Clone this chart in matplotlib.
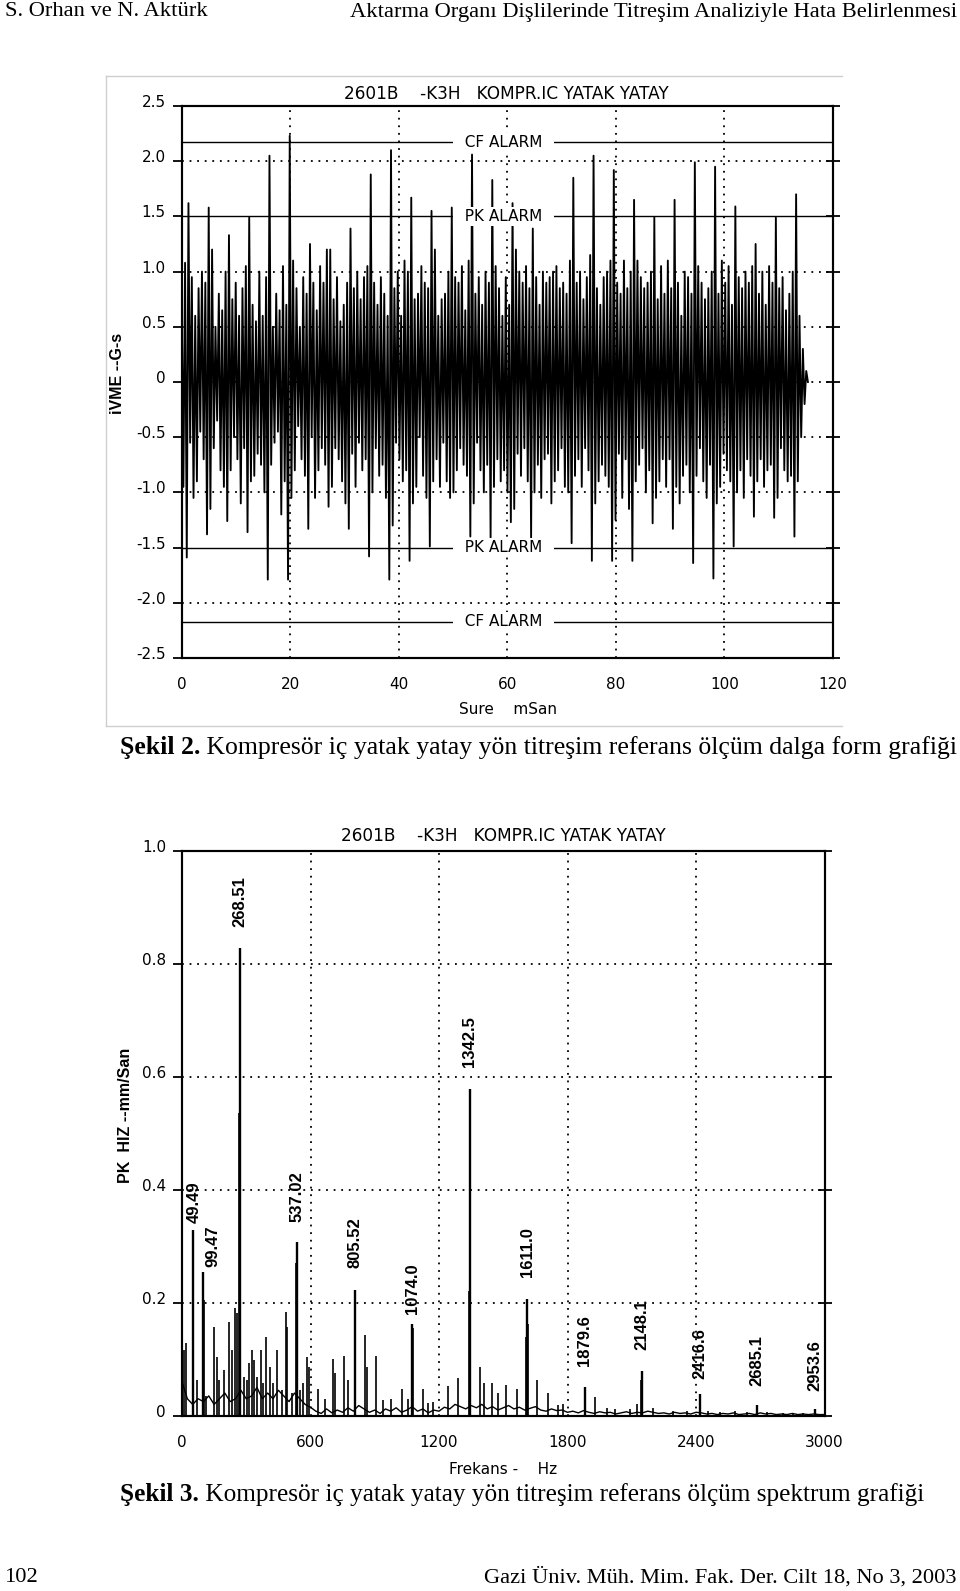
import numpy as np
import matplotlib.pyplot as plt
from matplotlib.lines import Line2D
from matplotlib.text import Annotation
from matplotlib.transforms import ScaledTranslation

plt.rcParams['font.family'] = ['DejaVu Sans']

W, H = 960, 1591

# ---------------- Şekil 2: iVME dalga formu (G-s) ----------------
ORNEK_MS = 0.311  # örnekleme aralığı (ms)
DALGA = [
    [0.75, -0.95, 1.08, -1.59, 1.62, -0.55, 0.95, -1.05, 0.60, -0.90, 0.85, -0.45],
    [1.00, -0.70, 0.90, -1.38, 1.58, -1.15, 1.20, -0.60, 0.50, -0.35, 0.80, -0.80],
    [0.65, -0.95, 1.00, -1.26, 1.33, -0.80, 0.75, -0.50, 0.90, -0.70, 0.60, -1.10],
    [0.85, -0.60, 1.05, -1.36, 1.49, -0.90, 0.70, -0.85, 0.55, -0.65, 1.00, -0.75],
    [0.60, -1.00, 0.95, -1.79, 2.05, -0.75, 0.50, -0.55, 0.80, -0.45, 0.65, -1.20],
    [1.05, -0.90, 0.70, -1.79, 2.23, -1.05, 1.10, -0.80, 0.85, -0.40, 0.50, -0.70],
    [0.95, -0.85, 0.80, -1.33, 1.25, -0.50, 0.90, -1.05, 0.65, -0.80, 1.05, -0.60],
    [0.90, -0.75, 1.20, -1.13, 1.20, -0.95, 0.75, -0.60, 0.95, -0.70, 0.55, -0.90],
    [0.70, -1.10, 0.90, -1.33, 1.39, -0.65, 0.85, -0.95, 1.00, -0.55, 0.75, -0.80],
    [0.95, -0.70, 1.05, -1.58, 1.88, -1.00, 0.90, -0.60, 0.70, -0.85, 0.95, -0.75],
    [0.80, -1.05, 0.60, -1.79, 2.10, -1.30, 0.85, -0.55, 1.00, -0.70, 0.60, -0.90],
    [1.10, -0.80, 1.00, -1.62, 1.67, -1.10, 0.75, -0.95, 0.80, -0.50, 1.05, -0.85],
    [0.90, -1.05, 0.85, -1.49, 1.55, -0.90, 1.20, -0.70, 0.60, -0.95, 0.75, -0.55],
    [0.80, -0.90, 1.00, -1.05, 1.58, -1.00, 0.95, -0.80, 0.90, -0.60, 1.05, -0.75],
    [0.65, -0.85, 1.10, -1.40, 2.06, -1.10, 0.80, -0.55, 0.95, -0.80, 0.70, -1.00],
    [1.00, -0.75, 0.90, -1.41, 1.83, -0.95, 1.05, -0.70, 0.85, -0.90, 0.60, -0.80],
    [0.95, -1.00, 0.70, -1.27, 1.62, -1.15, 1.20, -0.65, 1.00, -0.85, 0.90, -0.60],
    [1.05, -0.90, 0.85, -1.41, 1.39, -1.00, 0.95, -0.75, 0.70, -1.05, 1.00, -0.70],
    [0.90, -0.65, 0.95, -1.10, 1.00, -0.90, 1.05, -0.80, 0.85, -0.60, 0.90, -0.95],
    [0.80, -1.00, 1.10, -1.46, 1.85, -0.85, 0.90, -0.70, 1.00, -0.95, 0.75, -0.60],
    [0.95, -0.80, 1.15, -1.62, 2.05, -1.10, 0.85, -0.90, 0.70, -0.75, 0.95, -0.85],
    [1.00, -0.95, 1.10, -1.62, 1.92, -1.25, 0.90, -0.65, 0.80, -1.05, 1.10, -0.70],
    [0.85, -1.15, 1.00, -1.62, 1.65, -0.90, 1.10, -0.75, 0.95, -0.60, 0.85, -1.00],
    [0.90, -0.80, 1.00, -1.28, 1.49, -1.05, 0.75, -0.90, 1.05, -0.70, 0.80, -0.95],
    [1.10, -0.70, 0.85, -1.33, 1.65, -0.95, 0.90, -1.10, 0.60, -0.85, 1.00, -0.75],
    [0.95, -1.00, 0.80, -1.64, 1.99, -0.85, 1.05, -0.60, 0.90, -0.90, 0.75, -1.05],
    [0.85, -0.75, 1.00, -1.78, 1.95, -1.10, 0.80, -0.95, 1.10, -0.65, 0.90, -0.80],
    [1.05, -0.90, 0.70, -1.49, 1.59, -1.00, 0.95, -0.80, 0.85, -1.05, 1.00, -0.70],
    [0.90, -0.85, 1.05, -1.22, 1.25, -0.90, 0.80, -0.70, 1.00, -0.95, 0.70, -0.80],
    [1.05, -0.75, 0.90, -1.23, 1.49, -1.05, 0.85, -0.60, 0.95, -0.80, 0.65, -0.90],
    [0.80, -0.85, 1.00, -1.40, 1.70, -0.90, 0.60, -0.50, 0.30, -0.20, 0.10, 0.00],
]
CF_ALARM = 2.17
PK_ALARM = 1.5
DALGA_Y = [2.5, 2.0, 1.5, 1.0, 0.5, 0.0, -0.5, -1.0, -1.5, -2.0, -2.5]
DALGA_Y_ETIKET = ['2.5', '2.0', '1.5', '1.0', '0.5', '0', '-0.5', '-1.0', '-1.5', '-2.0', '-2.5']
DALGA_X = [0, 20, 40, 60, 80, 100, 120]
DALGA_IZGARA_Y = [2.0, 1.0, 0.5, 0.0, -0.5, -1.0, -2.0]
DALGA_IZGARA_X = [20, 40, 60, 80, 100]

# ---------------- Şekil 3: spektrum (PK HIZ mm/San) ----------------
TEPE_HZ = [49.49, 99.47, 268.51, 537.02, 805.52, 1074.0, 1342.5,
           1611.0, 1879.6, 2148.1, 2416.6, 2685.1, 2953.6]
TEPE_GENLIK = [0.329, 0.255, 0.827, 0.308, 0.222, 0.162, 0.579,
               0.207, 0.050, 0.080, 0.038, 0.019, 0.011]
TEPE_ETIKET = ['49.49', '99.47', '268.51', '537.02', '805.52', '1074.0', '1342.5',
               '1611.0', '1879.6', '2148.1', '2416.6', '2685.1', '2953.6']

KUCUK_HZ = [9, 19, 52, 68, 102, 112, 151, 165, 174, 196, 218, 235, 247, 255, 264,
            290, 302, 313, 325, 338, 349, 367, 380, 391, 411, 423, 442, 465, 486, 492,
            512, 533, 551, 566, 585, 595, 636, 667, 703, 714, 758, 777, 809, 854, 862,
            906, 940, 975, 1026, 1057, 1077, 1124, 1150, 1173, 1244, 1291, 1338, 1346,
            1392, 1408, 1446, 1477, 1513, 1563, 1605, 1614, 1659, 1711, 1757, 1781,
            1928, 1983, 2021, 2092, 2123, 2144, 2198, 2294, 2356, 2457, 2512, 2582,
            2636, 2730, 2808, 2851, 2901]
KUCUK_GENLIK = [0.116, 0.128, 0.315, 0.063, 0.204, 0.034, 0.157, 0.104, 0.063, 0.081,
                0.166, 0.116, 0.190, 0.181, 0.535, 0.069, 0.063, 0.093, 0.116, 0.098,
                0.069, 0.116, 0.057, 0.139, 0.087, 0.057, 0.116, 0.046, 0.183, 0.157,
                0.040, 0.270, 0.046, 0.057, 0.104, 0.087, 0.047, 0.030, 0.100, 0.075,
                0.106, 0.063, 0.175, 0.143, 0.087, 0.106, 0.028, 0.030, 0.047, 0.030,
                0.155, 0.047, 0.022, 0.025, 0.052, 0.066, 0.220, 0.389, 0.087, 0.057,
                0.057, 0.040, 0.054, 0.047, 0.140, 0.163, 0.064, 0.040, 0.019, 0.021,
                0.033, 0.014, 0.012, 0.012, 0.020, 0.063, 0.014, 0.009, 0.008, 0.009,
                0.006, 0.009, 0.006, 0.006, 0.004, 0.005, 0.004]

ZEMIN_ADIM_HZ = 25
ZEMIN = [0.060, 0.030, 0.020, 0.030, 0.025, 0.035, 0.020, 0.030, 0.040, 0.025, 0.030, 0.045,
         0.030, 0.035, 0.050, 0.030, 0.040, 0.030, 0.045, 0.035, 0.025, 0.040, 0.030, 0.020,
         0.015, 0.008, 0.004, 0.012, 0.005, 0.010, 0.006, 0.014, 0.008, 0.018, 0.012, 0.006,
         0.010, 0.004, 0.012, 0.008, 0.014, 0.006, 0.010, 0.016, 0.008, 0.012, 0.005, 0.010,
         0.008, 0.015, 0.012, 0.020, 0.016, 0.012, 0.018, 0.014, 0.020, 0.012, 0.016, 0.010,
         0.014, 0.018, 0.012, 0.015, 0.010, 0.013, 0.016, 0.010, 0.008, 0.012, 0.009, 0.010,
         0.006, 0.008, 0.005, 0.009, 0.006, 0.004, 0.007, 0.005, 0.006, 0.003, 0.005, 0.007,
         0.004, 0.006, 0.005, 0.008, 0.006, 0.004, 0.005, 0.003, 0.006, 0.004, 0.005, 0.003,
         0.006, 0.005, 0.003, 0.004, 0.002, 0.004, 0.003, 0.005, 0.002, 0.003, 0.004, 0.002,
         0.005, 0.003, 0.004, 0.002, 0.003, 0.002, 0.004, 0.002, 0.003, 0.002, 0.003, 0.002,
         0.002]
SPEKTRUM_Y = [0.0, 0.2, 0.4, 0.6, 0.8, 1.0]
SPEKTRUM_Y_ETIKET = ['0', '0.2', '0.4', '0.6', '0.8', '1.0']
SPEKTRUM_X = [0, 600, 1200, 1800, 2400, 3000]
SPEKTRUM_IZGARA_Y = [0.2, 0.4, 0.6, 0.8]
SPEKTRUM_IZGARA_X = [600, 1200, 1800, 2400]

BASLIK = '2601B    -K3H   KOMPR.IC YATAK YATAY'


def fx(x):
    return x / W


def fy(y):
    return 1 - y / H


NOKTALI = (0, (1, 3.2))
fig = plt.figure(figsize=(W / 100, H / 100), dpi=100)
fig.patch.set_facecolor('white')


def eksen_hazirla(ax, yticks, ylabels, xticks):
    ax.set_yticks(yticks)
    ax.set_yticklabels(ylabels)
    ax.set_xticks(xticks)
    ax.tick_params(axis='y', direction='out', length=6.5, width=1.3, pad=5, labelsize=11)
    ax.tick_params(axis='x', length=0, pad=14, labelsize=11)
    for lab in ax.get_yticklabels():
        lab.set_transform(lab.get_transform() + ScaledTranslation(0, 0.05, fig.dpi_scale_trans))
    for sp in ax.spines.values():
        sp.set_linewidth(1.5)
    sag = ax.twinx()
    sag.set_ylim(ax.get_ylim())
    sag.set_yticks(yticks)
    sag.tick_params(direction='inout', length=10, width=1.3, labelright=False)
    for sp in sag.spines.values():
        sp.set_linewidth(1.5)


# ---- Şekil 2 ----
ax1 = fig.add_axes([fx(181.7), fy(658), (833 - 181.7) / W, 552 / H])
dalga = np.array(DALGA).ravel()
zaman = np.arange(len(dalga)) * ORNEK_MS
ax1.plot(zaman, dalga, color='black', lw=1.35, zorder=3)
for v in DALGA_IZGARA_Y:
    ax1.axhline(v, color='black', lw=1.3, ls=NOKTALI, zorder=1)
for v in DALGA_IZGARA_X:
    ax1.axvline(v, color='black', lw=1.3, ls=NOKTALI, zorder=1)
ax1.hlines([CF_ALARM, -CF_ALARM, PK_ALARM, -PK_ALARM], 0, 120, color='black', lw=1.0, zorder=2)
for v, ad in [(CF_ALARM, 'CF ALARM'), (-CF_ALARM, 'CF ALARM'),
              (PK_ALARM, 'PK ALARM'), (-PK_ALARM, 'PK ALARM')]:
    ax1.text(59.3, v, '  ' + ad + '  ', ha='center', va='center', fontsize=11, zorder=5,
             bbox=dict(fc='white', ec='none', pad=1.5))
ax1.set_xlim(0, 120)
ax1.set_ylim(-2.5, 2.5)
eksen_hazirla(ax1, DALGA_Y, DALGA_Y_ETIKET, DALGA_X)

fig.text(fx(506), fy(94), BASLIK, ha='center', va='center', fontsize=12.2)
fig.text(fx(508), fy(710), 'Sure    mSan', ha='center', va='center', fontsize=11)
fig.text(fx(117), fy(373), 'iVME --G-s', ha='center', va='center', rotation=90,
         fontsize=11.5, fontweight='bold', family='Liberation Sans')

# ekran görüntüsü çerçevesi
for xs, ys in [([106, 106], [76, 726]), ([106, 842], [726, 726]), ([106, 842], [76, 76])]:
    fig.add_artist(Line2D([fx(x) for x in xs], [fy(y) for y in ys], color='#cfcfcf', lw=1.0,
                          transform=fig.transFigure))

# ---- Şekil 3 ----
ax2 = fig.add_axes([fx(182), fy(1415.7), 642.5 / W, 565 / H])
zemin_hz = np.arange(len(ZEMIN)) * ZEMIN_ADIM_HZ
ax2.plot(zemin_hz, ZEMIN, color='black', lw=1.0, zorder=3)
ax2.vlines(KUCUK_HZ, 0, KUCUK_GENLIK, color='black', lw=1.2, zorder=3)
ax2.vlines(TEPE_HZ, 0, TEPE_GENLIK, color='black', lw=1.7, zorder=3)
for v in SPEKTRUM_IZGARA_Y:
    ax2.axhline(v, color='black', lw=1.3, ls=NOKTALI, zorder=1)
for v in SPEKTRUM_IZGARA_X:
    ax2.axvline(v, color='black', lw=1.3, ls=NOKTALI, zorder=1)
ETIKET_BOSLUK_PX = [7, 5, 21, 20, 22, 10, 22, 22, 21, 21, 15, 19, 18]
ETIKET_KAYMA_PX = [2, 10, 0, 0, 0, 0, 0, 0, 0, 0, 0, 0, 0]
for hz, a, et, g, k in zip(TEPE_HZ, TEPE_GENLIK, TEPE_ETIKET, ETIKET_BOSLUK_PX, ETIKET_KAYMA_PX):
    ax2.annotate(et, (hz, a), xytext=(k * 0.72, g * 0.72), textcoords='offset points',
                 rotation=90, ha='center', va='bottom', fontsize=12, fontweight='bold',
                 family='Liberation Sans', zorder=6)
ax2.set_xlim(0, 3000)
ax2.set_ylim(0, 1.0)
eksen_hazirla(ax2, SPEKTRUM_Y, SPEKTRUM_Y_ETIKET, SPEKTRUM_X)

fig.text(fx(503), fy(836), BASLIK, ha='center', va='center', fontsize=12.2)
fig.text(fx(503), fy(1469), 'Frekans -    Hz', ha='center', va='center', fontsize=11)
fig.text(fx(125), fy(1115), 'PK  HIZ --mm/San', ha='center', va='center', rotation=90,
         fontsize=11.5, fontweight='bold', family='Liberation Sans')

# ---- sayfa metinleri ----
SERIF = 'Liberation Serif'
fig.text(fx(5), fy(12), 'S. Orhan ve N. Aktürk', ha='left', va='center', fontsize=16.2, family=SERIF)
fig.text(fx(957), fy(12), 'Aktarma Organı Dişlilerinde Titreşim Analiziyle Hata Belirlenmesi',
         ha='right', va='center', fontsize=16.2, family=SERIF)
fig.text(fx(5), fy(1577), '102', ha='left', va='center', fontsize=16.1, family=SERIF)
fig.text(fx(957), fy(1577), 'Gazi Üniv. Müh. Mim. Fak. Der. Cilt 18, No 3, 2003',
         ha='right', va='center', fontsize=16.1, family=SERIF)

for y, no, metin, fs in [(748, 'Şekil 2.', ' Kompresör iç yatak yatay yön titreşim referans ölçüm dalga form grafiği', 18.5),
                         (1494, 'Şekil 3.', ' Kompresör iç yatak yatay yön titreşim referans ölçüm spektrum grafiği', 18.2)]:
    t1 = fig.text(fx(120), fy(y), no, ha='left', va='center', fontsize=fs,
                  fontweight='bold', family=SERIF)
    fig.add_artist(Annotation(metin, xy=(1, 0), xycoords=t1, ha='left', va='bottom',
                              fontsize=fs, family=SERIF))

fig.savefig('out.png', dpi=100, facecolor='white')
